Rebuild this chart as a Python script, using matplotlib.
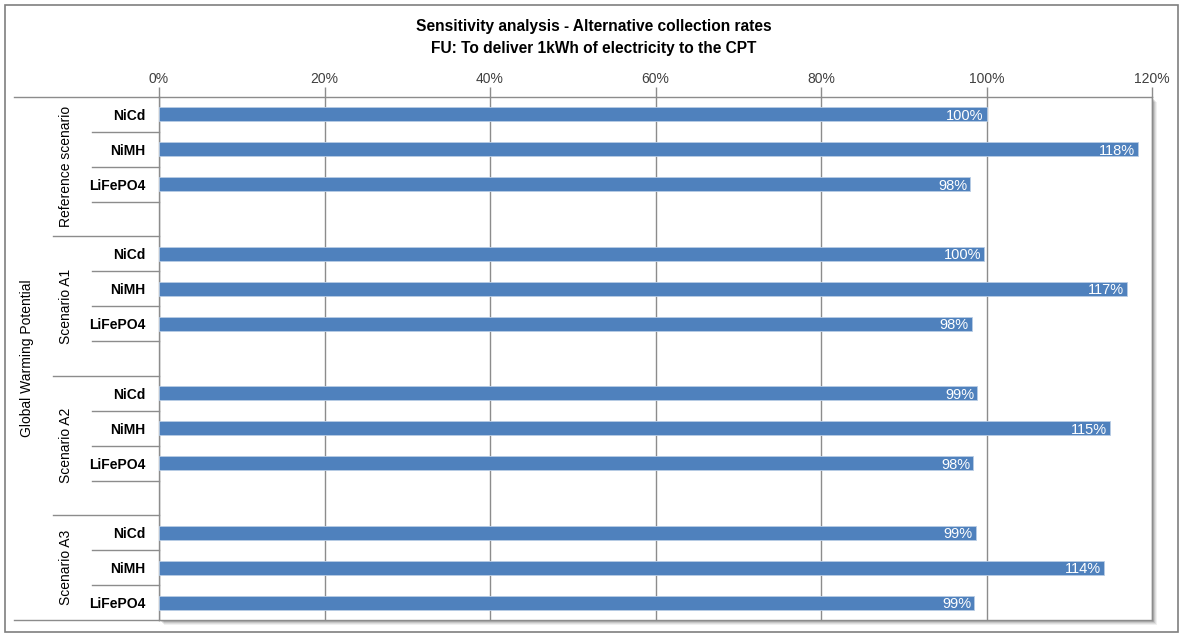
import matplotlib.pyplot as plt
from matplotlib.patches import Rectangle
from matplotlib.transforms import blended_transform_factory
import numpy as np

# Data: share of the NiCd reference result, per scenario and battery type
scenarios = ["Reference scenario", "Scenario A1", "Scenario A2", "Scenario A3"]
batteries = ["NiCd", "NiMH", "LiFePO4"]
ref_values = [100.0, 118.3, 98.0]
a1_values = [99.7, 117.0, 98.2]
a2_values = [98.9, 114.9, 98.4]
a3_values = [98.7, 114.2, 98.5]
value_labels = [["100%", "118%", "98%"],
                ["100%", "117%", "98%"],
                ["99%", "115%", "98%"],
                ["99%", "114%", "99%"]]
x_ticks = [0, 20, 40, 60, 80, 100, 120]
indicator = "Global Warming Potential"

BAR = "#4F81BD"
GRID = "#8C8C8C"
TEXT = "#000000"
TICK = "#404040"
FONT = ["Liberation Sans Narrow", "Liberation Sans", "DejaVu Sans"]

plt.rcParams["font.family"] = FONT

W, H = 1182, 634
fig = plt.figure(figsize=(W / 100, H / 100), dpi=100)
fig.patch.set_facecolor("white")


def fx(px):
    return px / W


def fy(py):
    return 1 - py / H


# chart frame
fig.patches.append(Rectangle((fx(5), fy(632)), fx(1173), 627 / H, transform=fig.transFigure,
                             fill=False, edgecolor="#7F7F7F", linewidth=1.2, zorder=0))

left, right, top, bottom = 159, 1152, 97, 620

# soft drop shadow behind the plot area
for off, a in [(5, 0.06), (4, 0.08), (3, 0.10), (2, 0.12)]:
    fig.patches.append(Rectangle((fx(left + off), fy(bottom + off)), fx(right - left),
                                 (bottom - top) / H, transform=fig.transFigure,
                                 facecolor="black", edgecolor="none", alpha=a, zorder=0.5))

ax = fig.add_axes([fx(left), fy(bottom), fx(right - left), (bottom - top) / H])
ax.set_facecolor("white")
ax.set_zorder(1)

all_values = [ref_values, a1_values, a2_values, a3_values]
rows_per_group = 4
n_rows = rows_per_group * len(scenarios) - 1

for g, vals in enumerate(all_values):
    ypos = np.arange(len(batteries)) + g * rows_per_group
    ax.barh(ypos, vals, height=0.4, color=BAR, edgecolor="#B9CDE5", linewidth=0.6, zorder=3)
    for y, v, lbl in zip(ypos, vals, value_labels[g]):
        ax.text(v - 0.35, y, lbl, color="white", ha="right", va="center_baseline",
                fontsize=10.5, zorder=4)

ax.set_xlim(0, 120)
ax.set_ylim(n_rows - 0.5, -0.5)
ax.set_xticks(x_ticks)
ax.set_xticklabels([f"{t}%" for t in x_ticks], color=TICK, fontsize=10)
ax.xaxis.tick_top()
ax.tick_params(axis="x", length=7, width=1, color=GRID, pad=1)
ax.set_yticks([])
ax.grid(axis="x", color=GRID, linewidth=1)
ax.set_axisbelow(True)
for s in ax.spines.values():
    s.set_color(GRID)
    s.set_linewidth(1)

# multi-level category axis on the left
tr = blended_transform_factory(fig.transFigure, ax.transData)
for g in range(len(scenarios)):
    start = g * rows_per_group
    n = rows_per_group if g < len(scenarios) - 1 else len(batteries)
    for i, b in enumerate(batteries):
        ax.text(fx(145), start + i, b, transform=tr, ha="right", va="center_baseline",
                fontsize=10, fontweight="bold", color=TEXT, clip_on=False)
    for k in range(1, n):
        ax.plot([fx(92), fx(left)], [start + k - 0.5] * 2, transform=tr,
                color=GRID, linewidth=1, clip_on=False)
    mid = start + (n - 1) / 2
    ax.text(fx(66), mid, scenarios[g], transform=tr, rotation=90, ha="center",
            va="center", fontsize=10, color=TEXT, clip_on=False)
    if g > 0:
        ax.plot([fx(53), fx(left)], [start - 0.5] * 2, transform=tr,
                color=GRID, linewidth=1, clip_on=False)

for yb in (-0.5, n_rows - 0.5):
    ax.plot([fx(14), fx(left)], [yb, yb], transform=tr, color=GRID,
            linewidth=1, clip_on=False)

ax.text(fx(27), (n_rows - 1) / 2, indicator, transform=tr, rotation=90,
        ha="center", va="center", fontsize=10, color=TEXT, clip_on=False)

fig.text(fx(594), fy(27), "Sensitivity analysis - Alternative collection rates",
         ha="center", va="center", fontsize=11.2, fontweight="bold", color=TEXT)
fig.text(fx(594), fy(48), "FU: To deliver 1kWh of electricity to the CPT",
         ha="center", va="center", fontsize=11.2, fontweight="bold", color=TEXT)

fig.savefig("out.png", dpi=100, facecolor="white")
